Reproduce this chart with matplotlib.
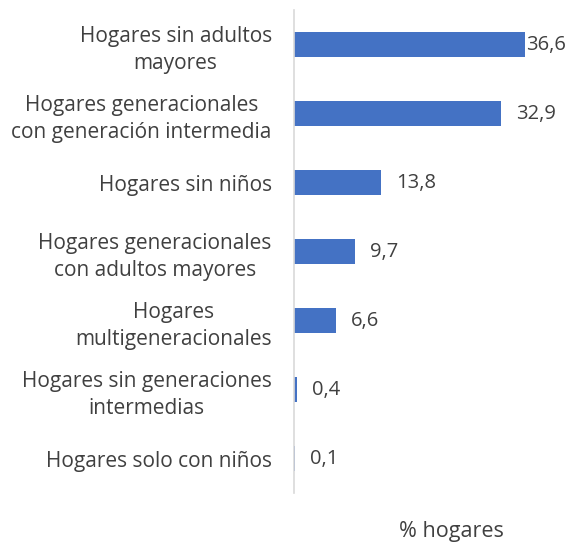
import matplotlib.pyplot as plt

plt.rcParams['font.family'] = ['Open Sans', 'DejaVu Sans']

categorias = ["Hogares sin adultos\nmayores",
              "Hogares generacionales\ncon generación intermedia",
              "Hogares sin niños",
              "Hogares generacionales\ncon adultos mayores",
              "Hogares\nmultigeneracionales",
              "Hogares sin generaciones\nintermedias",
              "Hogares solo con niños"]
valores = [36.6, 32.9, 13.8, 9.7, 6.6, 0.4, 0.1]

azul = '#4472C4'
gris = '#404040'

fig = plt.figure(figsize=(5.71, 5.44), dpi=100)
ax = fig.add_axes([294/571, 1 - 493/544, 252/571, 483/544])

pos = list(range(len(valores)))
ax.barh(pos, valores, height=0.36, color=azul)
ax.set_ylim(len(valores) - 0.5, -0.5)
ax.set_xlim(0, 40)

ax.set_yticks(pos)
ax.set_yticklabels(categorias, fontsize=15, color=gris, linespacing=1.4)
for lbl in ax.get_yticklabels():
    lbl.set_multialignment('center')
ax.tick_params(axis='y', length=0, pad=16)
ax.set_xticks([])

for s in ['top', 'right', 'bottom']:
    ax.spines[s].set_visible(False)
ax.spines['left'].set_color('#d9d9d9')
ax.spines['left'].set_linewidth(1.2)

for i, v in enumerate(valores):
    off = 1 if v > 35 else 11
    ax.annotate(f"{v:.1f}".replace('.', ','), xy=(v, i), xytext=(off, 0),
                textcoords='offset points', va='center', ha='left',
                fontsize=14.5, color=gris)

fig.text(451/571, 1 - 531/544, '% hogares', ha='center', va='center',
         fontsize=15.5, color=gris)

fig.savefig('out.png', dpi=100)
